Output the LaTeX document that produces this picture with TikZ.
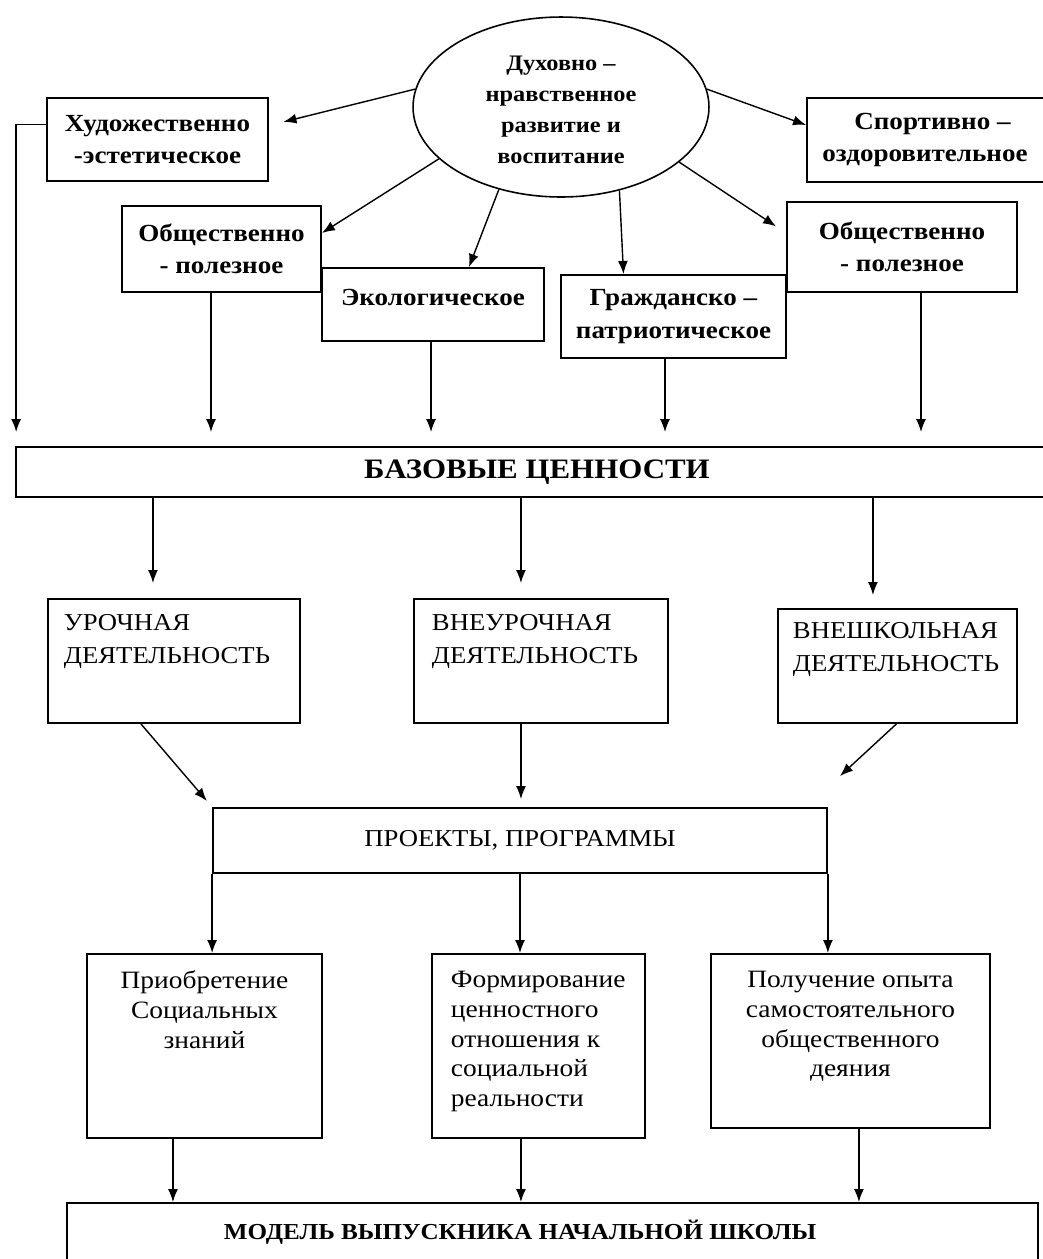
\documentclass[tikz,border=0pt]{standalone}
\usepackage{fontspec}
\setmainfont{Liberation Serif}[FakeStretch=1.1]
\usetikzlibrary{shapes.geometric, arrows.meta}

\begin{document}
\begin{tikzpicture}[x=0.02cm, y=-0.02cm,
  box/.style={draw, line width=1.1pt},
  kind/.style={font=\bfseries\fontsize{14}{18.5}\selectfont, align=center},
  act/.style={font=\fontsize{13.8}{19}\selectfont},
  res/.style={font=\fontsize{14.2}{17}\selectfont},
  link/.style={->, >={Latex[length=2.6mm, width=2mm]}, line width=0.8pt}]
  \useasboundingbox (0,0) rectangle (1043,1259);

  \node[ellipse, draw, line width=0.9pt, minimum width=5.92cm, minimum height=3.6cm, inner sep=0pt,
    font=\bfseries\fontsize{12.6}{17.6}\selectfont, align=center] (Duh) at (561,107)
    {\\[-0.2cm]Духовно –\\нравственное\\развитие и\\воспитание};

  \node[box, kind, minimum width=4.42cm, minimum height=1.66cm] (Hud) at (157.5,139.5) {Художественно\\-эстетическое};
  \node[box, kind, minimum width=5.02cm, minimum height=1.68cm] (Sport) at (932.5,140) {Спортивно –\\оздоровительное\hspace*{0.3cm}};
  \node[box, kind, minimum width=3.98cm, minimum height=1.72cm] (ObshL) at (221.5,249) {Общественно\\- полезное};
  \node[box, kind, minimum width=4.44cm, minimum height=1.46cm, text depth=0.3cm] (Ekol) at (433,304.5) {Экологическое};
  \node[box, kind, minimum width=4.5cm, minimum height=1.66cm] (Grazh) at (673.5,316.5) {Гражданско –\\патриотическое};
  \node[box, kind, minimum width=4.6cm, minimum height=1.8cm] (ObshR) at (902,247) {Общественно\\- полезное};

  \node[box, minimum width=20.84cm, minimum height=1cm, font=\bfseries\fontsize{16}{19}\selectfont] (Baz) at (537,472) {БАЗОВЫЕ ЦЕННОСТИ};

  \node[box, act, anchor=north west, inner sep=0pt] (Urok) at (47,598)
    {\parbox[c][2.48cm][t]{5.04cm}{\vskip0.3cm\leftskip0.32cm УРОЧНАЯ\\ДЕЯТЕЛЬНОСТЬ}};
  \node[box, act, anchor=north west, inner sep=0pt] (Vneur) at (413,598)
    {\parbox[c][2.48cm][t]{5.08cm}{\vskip0.3cm\leftskip0.36cm ВНЕУРОЧНАЯ\\ДЕЯТЕЛЬНОСТЬ}};
  \node[box, act, anchor=north west, inner sep=0pt] (Vnesh) at (777,608)
    {\parbox[c][2.28cm][t]{4.78cm}{\vskip0.26cm\leftskip0.3cm ВНЕШКОЛЬНАЯ\\ДЕЯТЕЛЬНОСТЬ}};

  \node[box, act, minimum width=12.28cm, minimum height=1.3cm] (Proekt) at (520,840.5) {ПРОЕКТЫ, ПРОГРАММЫ};

  \node[box, res, anchor=north west, inner sep=0pt] (Priob) at (86,953)
    {\parbox[c][3.68cm][t]{4.7cm}{\vskip0.34cm\centering Приобретение\\Социальных\\знаний}};
  \node[box, res, anchor=north west, inner sep=0pt] (Form) at (431,953)
    {\parbox[c][3.68cm][t]{4.26cm}{\vskip0.34cm\leftskip0.38cm Формирование\\ценностного\\отношения к\\социальной\\реальности}};
  \node[box, res, anchor=north west, inner sep=0pt] (Poluch) at (710,953)
    {\parbox[c][3.48cm][t]{5.58cm}{\vskip0.34cm\centering Получение опыта\\самостоятельного\\общественного\\деяния}};

  \node[box, minimum width=19.42cm, minimum height=1.18cm, font=\bfseries\fontsize{13}{18}\selectfont] (Model) at (552.5,1232.5)
    {МОДЕЛЬ ВЫПУСКНИКА НАЧАЛЬНОЙ ШКОЛЫ\hspace*{1.3cm}};

  \coordinate (VneshTip) at (840,776);

  % from the oval
  \draw[link, shorten >=0.3cm] (Duh.173) -- ([yshift=0.28cm]Hud.east);
  \draw[link] (Duh.7) -- ([yshift=0.3cm]Sport.west);
  \draw[link] (Duh.203) -- ([yshift=0.32cm]ObshL.east);
  \draw[link] (Duh.233) -- ([xshift=0.72cm]Ekol.north);
  \draw[link] (Duh.305) -- ([xshift=-1cm]Grazh.north);
  \draw[link, shorten >=0.24cm] (Duh.335) -- ([yshift=0.28cm]ObshR.west);

  % down to the base values
  \draw[link, shorten >=0.28cm] ([yshift=0.3cm]Hud.west) -| ([xshift=0.02cm]Baz.north west);
  \draw[link, shorten >=0.28cm] ([xshift=-0.21cm]ObshL.south) -- ([xshift=-0.21cm]ObshL.south |- Baz.north);
  \draw[link, shorten >=0.28cm] ([xshift=-0.04cm]Ekol.south) -- ([xshift=-0.04cm]Ekol.south |- Baz.north);
  \draw[link, shorten >=0.28cm] ([xshift=-0.17cm]Grazh.south) -- ([xshift=-0.17cm]Grazh.south |- Baz.north);
  \draw[link, shorten >=0.28cm] ([xshift=0.38cm]ObshR.south) -- ([xshift=0.38cm]ObshR.south |- Baz.north);

  \draw[link, shorten >=0.3cm] ([xshift=-0.42cm]Urok.north |- Baz.south) -- ([xshift=-0.42cm]Urok.north);
  \draw[link, shorten >=0.3cm] ([xshift=-0.4cm]Vneur.north |- Baz.south) -- ([xshift=-0.4cm]Vneur.north);
  \draw[link, shorten >=0.26cm] ([xshift=-0.49cm]Vnesh.north |- Baz.south) -- ([xshift=-0.49cm]Vnesh.north);

  \draw[link, shorten >=0.16cm] ([xshift=-0.66cm]Urok.south) -- (Proekt.north west);
  \draw[link, shorten >=0.16cm] ([xshift=-0.4cm]Vneur.south) -- ([xshift=-0.4cm]Vneur.south |- Proekt.north);
  \draw[link] ([xshift=-0.02cm]Vnesh.south) -- (VneshTip);

  \draw[link] (Proekt.south west) -- (Proekt.south west |- Priob.north);
  \draw[link] (Proekt.south) -- (Proekt.south |- Form.north);
  \draw[link] (Proekt.south east) -- (Proekt.south east |- Poluch.north);

  \draw[link] ([xshift=-0.63cm]Priob.south) -- ([xshift=-0.63cm]Priob.south |- Model.north);
  \draw[link] ([xshift=-0.35cm]Form.south) -- ([xshift=-0.35cm]Form.south |- Model.north);
  \draw[link] ([xshift=0.17cm]Poluch.south) -- ([xshift=0.17cm]Poluch.south |- Model.north);
\end{tikzpicture}
\end{document}
